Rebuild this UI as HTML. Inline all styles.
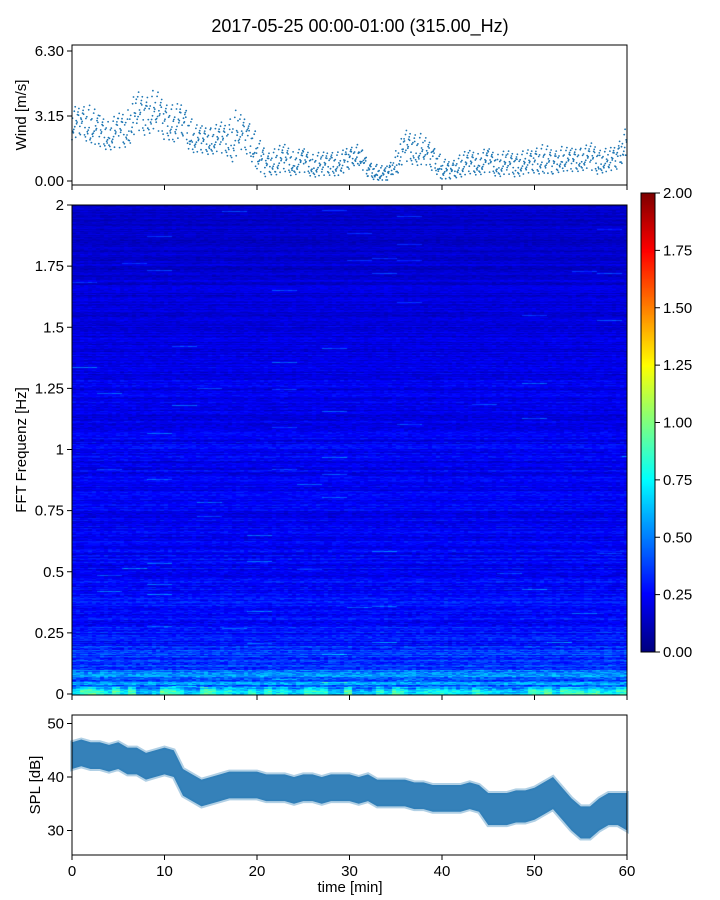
<!DOCTYPE html>
<html><head><meta charset="utf-8"><style>
body{margin:0;background:#fff;width:720px;height:900px;overflow:hidden;font-family:"Liberation Sans","DejaVu Sans",sans-serif}
#wrap{position:relative;width:720px;height:900px}
canvas,svg{position:absolute;left:0;top:0}
</style></head><body>
<div id="wrap">
<canvas id="spec" width="555" height="490" style="left:72px;top:205px"></canvas>
<canvas id="cbar" width="14" height="459" style="left:641px;top:193px"></canvas>
<svg id="svg" width="720" height="900"></svg>
</div>
<script>
// ---- data ----
const windMinutes=[0,1,2,3,4,5,6,7,8,9,10,11,12,13,14,15,16,17,18,19,20,21,22,23,24,25,26,27,28,29,30,31,32,33,34,35,36,37,38,39,40,41,42,43,44,45,46,47,48,49,50,51,52,53,54,55,56,57,58,59,60];
const windMean=[2.8,2.9,2.8,2.4,2.3,2.4,2.6,3.4,3.2,3.5,3.0,2.8,3.0,2.1,2.0,2.0,2.1,2.0,2.4,2.2,1.4,0.8,1.0,1.1,0.9,1.0,0.8,0.8,0.9,0.8,1.2,1.3,0.6,0.4,0.3,0.9,1.7,1.6,1.5,1.2,0.6,0.5,0.8,0.9,0.9,1.0,0.8,0.9,0.8,0.9,1.0,1.1,0.9,1.1,1.0,1.1,1.2,1.0,1.0,1.2,2.0];
const windSpread=[0.8,0.9,0.9,0.8,0.8,0.9,1.0,1.0,1.0,1.0,0.9,0.9,0.9,0.7,0.7,0.7,0.8,1.2,0.9,0.9,0.8,0.6,0.7,0.7,0.6,0.6,0.6,0.6,0.6,0.6,0.5,0.5,0.4,0.4,0.4,0.7,0.8,0.8,0.7,0.6,0.5,0.5,0.6,0.6,0.6,0.6,0.6,0.6,0.6,0.6,0.7,0.7,0.6,0.6,0.6,0.6,0.7,0.6,0.6,0.7,1.2];
const splMinutes=windMinutes;
const splMean=[44,44.5,44,44,43.5,44,43,43,42,42.5,43,42.5,39,38,37,37.5,38,38.5,38.5,38.5,38.5,38,38,38,37.5,38,38,37.5,38,38,38,37.5,38,37,37,37,37,36.5,36.5,36,36,36,36,36.5,36,34,34,34,34.5,34.5,35,36,37,35,33,31.5,31.5,33,34,34,33.5];
const splHalf=[2.5,2.5,2.5,2.5,2.5,2.5,2.5,2.5,2.5,2.5,2.5,2.5,2.5,2.5,2.5,2.5,2.5,2.5,2.5,2.5,2.5,2.5,2.5,2.5,2.5,2.5,2.5,2.5,2.5,2.5,2.5,2.5,2.5,2.5,2.5,2.5,2.5,2.5,2.5,2.5,2.5,2.5,2.5,2.5,2.5,3,3,3,3,3,3,3,3,3,3,3,3,3,3,3,3.5];
const freqLevels=[0.5,0.38,0.3,0.27,0.26,0.25,0.24,0.23,0.23,0.24,0.24,0.23,0.22,0.21,0.2,0.19,0.18,0.17,0.16,0.16,0.15]; // per 0.1 Hz
const xTicks=[0,10,20,30,40,50,60];
const windTicks=[0,3.15,6.3], windTickLabels=["0.00","3.15","6.30"];
const freqTicks=[0,0.25,0.5,0.75,1,1.25,1.5,1.75,2], freqTickLabels=["0","0.25","0.5","0.75","1","1.25","1.5","1.75","2"];
const splTicks=[30,40,50];
const cbTicks=[0,0.25,0.5,0.75,1,1.25,1.5,1.75,2];

// ---- scales ----
const X=t=>72+t/60*555;
const Yw=v=>181-v*(130/6.3);
const Yf=f=>694-f/2*489;
const Ys=v=>777-(v-40)*5.35;
const Yc=v=>652-v/2*459;

function jet(v){v=Math.max(0,Math.min(1,v));
 const r=Math.max(0,Math.min(1,1.5-Math.abs(4*v-3))),g=Math.max(0,Math.min(1,1.5-Math.abs(4*v-2))),b=Math.max(0,Math.min(1,1.5-Math.abs(4*v-1)));
 return [r*255|0,g*255|0,b*255|0];}
function hash(a,b){let h=(a*374761393+b*668265263)|0;h=(h^(h>>>13))*1274126177;h=h^(h>>>16);return ((h>>>0)%10000)/10000;}

// spectrogram
const sc=document.getElementById('spec').getContext('2d');
const img=sc.createImageData(555,490);
for(let y=0;y<490;y++){
 const f=(489-y)/489*2; const fi=Math.min(20,Math.floor(f*10)); const base=freqLevels[fi];
 const rowN=hash(y,7);
 for(let x=0;x<555;x++){
  const col=Math.floor(x/4);
  const n=hash(col,y); const seg=hash(Math.floor(x/25),y*3+1);
  let v=base*(0.45+0.55*rowN+0.45*n);
  if(seg>0.993) v+=0.2;
  if(f<0.03) v+=0.35*hash(Math.floor(x/8),1);
  const c=jet(v/2);const i=(y*555+x)*4;
  img.data[i]=c[0];img.data[i+1]=c[1];img.data[i+2]=c[2];img.data[i+3]=255;}}
sc.putImageData(img,0,0);
const cc=document.getElementById('cbar').getContext('2d');
for(let y=0;y<459;y++){const c=jet(1-y/458);cc.fillStyle=`rgb(${c[0]},${c[1]},${c[2]})`;cc.fillRect(0,y,14,1);}

const NS='http://www.w3.org/2000/svg',svg=document.getElementById('svg');
function el(tag,attrs,text){const e=document.createElementNS(NS,tag);for(const k in attrs)e.setAttribute(k,attrs[k]);if(text!==undefined)e.textContent=text;svg.appendChild(e);return e;}

let t=el('text',{x:360,y:32,'text-anchor':'middle','font-size':18},'2017-05-25 00:00-01:00 (315.00_Hz)');


// wind scatter
const pat=[-1,-0.6,-0.25,0.1,0.45,0.8,-0.8,0.3,-0.4,0.95,-0.1,0.6,-0.7,0.2,-0.5,0.7,-0.9,0.0,0.4,-0.3];
for(let i=0;i<windMinutes.length-1;i++){
 for(let k=0;k<20;k++){
  const tt=windMinutes[i]+k/20; const m=windMean[i]+(windMean[i+1]-windMean[i])*k/20;
  const v=Math.max(0.05,m+pat[(k*7+i*3)%20]*windSpread[i]);
  const c=el('circle',{cx:X(tt).toFixed(1),cy:Yw(v).toFixed(1),r:0.9,fill:'#1f77b4'});
  
 }}
// SPL band
let up='',dn='';
for(let i=0;i<splMinutes.length;i++){up+=`${X(splMinutes[i])},${Ys(splMean[i]+splHalf[i])} `;}
for(let i=splMinutes.length-1;i>=0;i--){dn+=`${X(splMinutes[i])},${Ys(splMean[i]-splHalf[i])} `;}
let halo=el('polygon',{points:up+dn,fill:'none',stroke:'#1f77b4','stroke-width':4,'stroke-opacity':0.35});

let band=el('polygon',{points:up+dn,fill:'#2a7ab5','fill-opacity':0.95});


function frame(name,y0,y1){const r=el('rect',{x:72,y:y0,width:555,height:y1-y0,fill:'none',stroke:'#000','stroke-width':1});}
frame('wind-axes',45,185);frame('spectrogram-axes',205,695);frame('spl-axes',715,855);
let cf=el('rect',{x:641,y:193,width:14,height:459,fill:'none',stroke:'#000','stroke-width':1});

function ytick(y,label,name){el('line',{x1:67,x2:72,y1:y,y2:y,stroke:'#000'});const tx=el('text',{x:64,y:y+5,'text-anchor':'end','font-size':15},label);}
windTicks.forEach((v,i)=>ytick(Yw(v),windTickLabels[i],'wind-tick-label'));
freqTicks.forEach((v,i)=>ytick(Yf(v),freqTickLabels[i],'freq-tick-label'));
splTicks.forEach(v=>ytick(Ys(v),String(v),'spl-tick-label'));
xTicks.forEach(v=>{[185,695,855].forEach(y=>el('line',{x1:X(v),x2:X(v),y1:y,y2:y+5,stroke:'#000'}));
 const tx=el('text',{x:X(v),y:876,'text-anchor':'middle','font-size':15},String(v));});
cbTicks.forEach(v=>{el('line',{x1:655,x2:660,y1:Yc(v),y2:Yc(v),stroke:'#000'});const tx=el('text',{x:663,y:Yc(v)+5,'font-size':15},v.toFixed(2));});

function ylab(x,y,txt,name){const e=el('text',{x:x,y:y,'text-anchor':'middle','font-size':15,transform:`rotate(-90 ${x} ${y})`},txt);}
ylab(26,115,'Wind [m/s]','wind-y-axis-title');ylab(26,450,'FFT Frequenz [Hz]','freq-y-axis-title');ylab(40,785,'SPL [dB]','spl-y-axis-title');
let xt=el('text',{x:350,y:892,'text-anchor':'middle','font-size':15},'time [min]');
</script>
</body></html>
